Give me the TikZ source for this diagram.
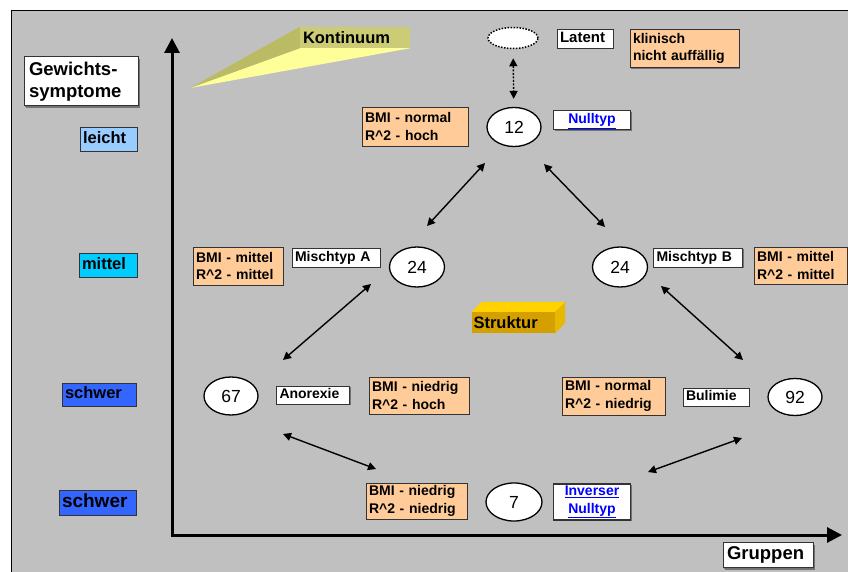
\documentclass[tikz,border=0pt]{standalone}
\usepackage{fontspec}
\setmainfont{Liberation Sans}
\usetikzlibrary{arrows.meta,shadows,shapes.geometric,calc}
\definecolor{bggray}{HTML}{C0C0C0}
\definecolor{infoorange}{HTML}{FFCC99}
\definecolor{leichtblue}{HTML}{99CCFF}
\definecolor{mittelcyan}{HTML}{00CCFF}
\definecolor{schwerblue}{HTML}{3366FF}
\definecolor{linkblue}{HTML}{0000FF}
\definecolor{kontfront}{HTML}{CCCC77}
\definecolor{kontside}{HTML}{BBBB66}
\definecolor{kontbottom}{HTML}{FFFF99}
\definecolor{strukfront}{HTML}{D4A000}
\definecolor{struktop}{HTML}{FFD200}
\definecolor{strukside}{HTML}{E8B800}

\begin{document}
\begin{tikzpicture}[x=1pt,y=-1pt,
  box/.style={draw=black!80, line width=0.8pt, align=left, inner xsep=3pt, inner ysep=0pt,
    drop shadow={shadow xshift=1.2pt, shadow yshift=-1.2pt, fill=black!55, opacity=1},
    font=\fontsize{14}{17.5}\selectfont\bfseries},
  lbl/.style={box, fill=white, minimum height=19pt, text height=10pt, text depth=2.5pt},
  info/.style={box, fill=infoorange, minimum height=38pt},
  lvl/.style={draw=black!80, line width=0.8pt, align=left, inner xsep=3pt, inner ysep=0pt,
    minimum height=24pt, text height=12pt, text depth=3.5pt, font=\fontsize{16.5}{18}\selectfont\bfseries},
  num/.style={ellipse, draw, fill=white, line width=1.3pt, minimum width=54pt, minimum height=39pt,
    inner sep=0pt, font=\fontsize{17.5}{17.5}\selectfont},
  link/.style={{Triangle[length=8pt,width=8pt]}-{Triangle[length=8pt,width=8pt]}, line width=1.4pt},
  axis/.style={{Triangle[length=15pt,width=15pt]}-{Triangle[length=15pt,width=15pt]}, line width=3pt}]
  \useasboundingbox (0,0) rectangle (848,572);
  % background frame
  \fill[bggray] (11,11) rectangle (848,572);
  \draw[line width=1pt] (11,572) -- (11,11) -- (848,11);

  % axes
  \coordinate (ytop) at (172,38);
  \coordinate (origin) at (172,535);
  \coordinate (xend) at (842,535);
  \draw[axis] (ytop) -- (origin) -- (xend);
  \node[box, fill=white, line width=1pt, text width=104pt, inner xsep=5pt, minimum height=49pt,
    drop shadow={shadow xshift=2pt, shadow yshift=-2pt, fill=black!55, opacity=1},
    font=\fontsize{18.5}{22}\selectfont\bfseries] (ylabel) at (81,81.5) {Gewichts-\\symptome};
  \node[box, fill=white, line width=1pt, text width=82pt, inner xsep=4pt, minimum height=25pt,
    drop shadow={shadow xshift=2pt, shadow yshift=-2pt, fill=black!55, opacity=1},
    font=\fontsize{18.5}{20}\selectfont\bfseries] (xlabel) at (768,555) {Gruppen};

  % levels
  \node[lvl, fill=leichtblue, text width=51pt] (leicht) at (108.5,139) {leicht};
  \node[lvl, fill=mittelcyan, text width=52pt] (mittel) at (108,265) {mittel};
  \node[lvl, fill=schwerblue, text width=68pt, minimum height=23pt] (schwerA) at (99,394.5) {schwer};
  \node[lvl, fill=schwerblue, text width=71pt, minimum height=25pt, text height=13.5pt,
    font=\fontsize{19}{21}\selectfont\bfseries] (schwerB) at (97.5,502.5) {schwer};

  % Kontinuum beam
  \node[fill=kontfront, minimum width=110pt, minimum height=21pt, inner sep=0pt, align=left,
    text width=104pt, font=\fontsize{16.5}{18}\selectfont\bfseries] (kont) at (355,37.5) {Kontinuum};
  \coordinate (konttip) at (190,88);
  \fill[kontbottom] (kont.south west) -- (kont.south east) -- (konttip) -- cycle;
  \fill[kontside] (kont.north west) -- (kont.south west) -- (konttip) -- cycle;

  % Struktur block
  \node[fill=strukfront, minimum width=83pt, minimum height=21pt, inner sep=0pt, align=left,
    text width=80pt, font=\fontsize{16.5}{18}\selectfont\bfseries] (struk) at (513.5,322.5) {Struktur};
  \fill[struktop] (struk.north west) -- ++(10,-10) -- ($(struk.north east)+(10,-10)$) -- (struk.north east) -- cycle;
  \fill[strukside] (struk.north east) -- ++(10,-10) -- ++(0,21) -- (struk.south east) -- cycle;

  % groups
  \node[ellipse, draw, fill=white, line width=1.5pt, dash pattern=on 1.5pt off 1.5pt, minimum width=50pt,
    minimum height=21pt] (latent) at (513,38) {};
  \node[num] (n12) at (514,127) {12};
  \node[num, minimum width=55pt, minimum height=40pt] (n24a) at (417,267) {24};
  \node[num, minimum width=55pt, minimum height=40pt] (n24b) at (620,267) {24};
  \node[num, minimum height=38pt] (n67) at (231,396) {67};
  \node[num, minimum height=37pt] (n92) at (795,397) {92};
  \node[num, minimum width=56pt, minimum height=38pt] (n7) at (514,502) {7};

  % type labels
  \node[lbl, text width=50pt, font=\fontsize{15}{17}\selectfont\bfseries] (latentlbl) at (585,38.5) {Latent};
  \node[lbl, text width=71pt, align=center, line width=1.2pt] (nulllbl) at (592,120)
    {\color{linkblue}\underline{Nulltyp}};
  \node[lbl, text width=82pt, minimum height=19pt] (mischA) at (336,257.5) {Mischtyp A};
  \node[lbl, text width=83pt] (mischB) at (698,257.5) {Mischtyp B};
  \node[lbl, text width=67pt, minimum height=18pt] (anorex) at (313,395) {Anorexie};
  \node[lbl, text width=60pt, minimum height=18pt] (bulim) at (716,397) {Bulimie};
  \node[lbl, text width=71pt, align=center, minimum height=36pt, line width=1.2pt,
    text height=, text depth=] (invlbl) at (592,502)
    {\color{linkblue}\underline{Inverser}\\\color{linkblue}\underline{Nulltyp}};

  % characteristics
  \node[info, text width=103pt] (klin) at (684.5,48.5) {klinisch\\nicht auff\"allig};
  \node[info, text width=100pt, minimum height=39pt] (info12) at (415,126.5) {BMI - normal\\R\textasciicircum2 - hoch};
  \node[info, text width=84pt] (info24a) at (238,266) {BMI - mittel\\R\textasciicircum2 - mittel};
  \node[info, text width=87pt, minimum height=37pt] (info24b) at (800.5,265.5) {BMI - mittel\\R\textasciicircum2 - mittel};
  \node[info, text width=94pt, minimum height=37pt] (info67) at (419,395.5) {BMI - niedrig\\R\textasciicircum2 - hoch};
  \node[info, text width=97pt] (info92) at (613.5,396) {BMI - normal\\R\textasciicircum2 - niedrig};
  \node[info, text width=95pt, minimum height=36pt] (info7) at (416.5,501) {BMI - niedrig\\R\textasciicircum2 - niedrig};

  % connectors
  \draw[link, dash pattern=on 2pt off 1.5pt, shorten <=9pt, shorten >=8pt] (latent) -- (n12);
  \coordinate (tlA) at (485,163);  \coordinate (tlB) at (427,226);
  \coordinate (trA) at (544,164);  \coordinate (trB) at (605,227);
  \coordinate (mlA) at (371,284);  \coordinate (mlB) at (283,360);
  \coordinate (mrA) at (661,286);  \coordinate (mrB) at (743,360);
  \coordinate (blA) at (283,434);  \coordinate (blB) at (376,469);
  \coordinate (brA) at (742,438);  \coordinate (brB) at (648,472);
  \draw[link] (tlA) -- (tlB);
  \draw[link] (trA) -- (trB);
  \draw[link] (mlA) -- (mlB);
  \draw[link] (mrA) -- (mrB);
  \draw[link] (blA) -- (blB);
  \draw[link] (brA) -- (brB);
\end{tikzpicture}
\end{document}
